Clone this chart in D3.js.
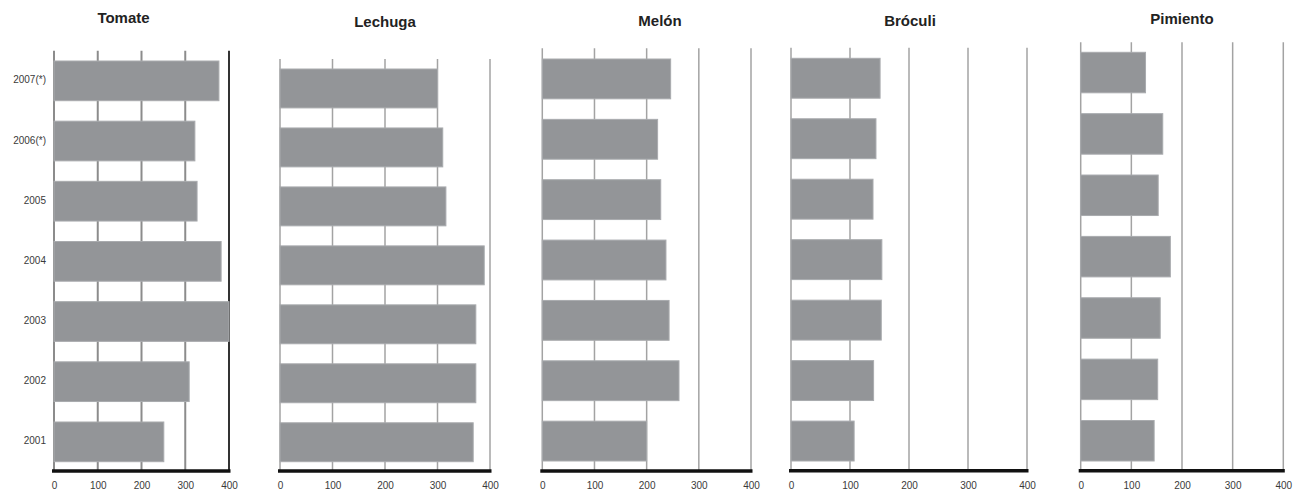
<!DOCTYPE html>
<html>
<head>
<meta charset="utf-8">
<script src="https://cdn.jsdelivr.net/npm/d3@7"></script>
<style>
  html, body { margin: 0; padding: 0; background: #fff; }
  svg { display: block; font-family: "Liberation Sans", Arial, sans-serif; }
</style>
</head>
<body>
<svg id="chart" width="1302" height="495"></svg>
<script>
// ---- data ----
const years = ["2001", "2002", "2003", "2004", "2005", "2006(*)", "2007(*)"];
const crops = ["Tomate", "Lechuga", "Melón", "Bróculi", "Pimiento"];
const tomate   = [251, 309, 400, 382, 327, 322, 377];
const lechuga  = [368, 373, 373, 389, 316, 310, 300];
const melon    = [200, 262, 243, 237, 227, 221, 246];
const broculi  = [107, 140, 153, 154, 139, 144, 151];
const pimiento = [145, 152, 157, 177, 153, 162, 128];
const tickValues = [0, 100, 200, 300, 400];
const seriesValues = [tomate, lechuga, melon, broculi, pimiento];

// ---- layout (positions only) ----
const layout = [
  { x0: 54,    x1: 229,    gridTop: 50.7, barTop: 61,   barBottom: 461.7, axisY: 471,   titleX: 123.5, titleY: 19, grid: "#8c8c8c", gw: 2 },
  { x0: 280,   x1: 490,    gridTop: 59,   barTop: 69,   barBottom: 461.7, axisY: 471,   titleX: 385,   titleY: 23, grid: "#a3a3a3", gw: 1.5 },
  { x0: 542.3, x1: 751,    gridTop: 48.3, barTop: 59,   barBottom: 461,   axisY: 471,   titleX: 660,   titleY: 22, grid: "#a3a3a3", gw: 1.5 },
  { x0: 791,   x1: 1027,   gridTop: 47.7, barTop: 58.3, barBottom: 461,   axisY: 470.7, titleX: 910,   titleY: 22, grid: "#a3a3a3", gw: 1.5 },
  { x0: 1080.7,x1: 1283.3, gridTop: 42.3, barTop: 52.3, barBottom: 461,   axisY: 470.7, titleX: 1182,  titleY: 20, grid: "#a3a3a3", gw: 1.5 }
];

const svg = d3.select("#chart");
const yOrder = years.slice().reverse(); // 2007 at top

crops.forEach((name, i) => {
  const L = layout[i];
  const vals = seriesValues[i];
  const g = svg.append("g");

  const x = d3.scaleLinear().domain([0, 400]).range([L.x0, L.x1]);
  const y = d3.scaleBand().domain(yOrder).range([L.barTop, L.barBottom])
              .paddingInner(0.34).paddingOuter(0);

  // title
  g.append("text")
    .attr("x", L.titleX).attr("y", L.titleY)
    .attr("text-anchor", "middle").attr("dominant-baseline", "middle")
    .attr("font-weight", "bold").attr("font-size", 15).attr("fill", "#222")
    .text(name);

  // gridlines
  g.selectAll("line.grid").data(tickValues).enter().append("line")
    .attr("class", "grid")
    .attr("x1", d => x(d)).attr("x2", d => x(d))
    .attr("y1", L.gridTop).attr("y2", L.axisY)
    .attr("stroke", d => (i === 0 && d === 400) ? "#333" : L.grid)
    .attr("stroke-width", L.gw);

  // bars
  g.selectAll("rect.bar").data(years.map((yr, k) => ({ yr, v: vals[k] }))).enter().append("rect")
    .attr("class", "bar")
    .attr("x", x(0))
    .attr("y", d => y(d.yr))
    .attr("width", d => x(d.v) - x(0))
    .attr("height", y.bandwidth())
    .attr("fill", "#939598")
    .attr("stroke", "#a9abae").attr("stroke-width", 1);

  // axis labels
  const axis = d3.axisBottom(x).tickValues(tickValues).tickSize(0).tickPadding(11);
  const ag = g.append("g").attr("transform", `translate(0,${L.axisY})`).call(axis);
  ag.select(".domain").remove();
  ag.selectAll("text").attr("font-size", 10).attr("fill", "#3a3a3a")
    .attr("font-family", "\"Liberation Sans\", Arial, sans-serif");

  // thick baseline
  g.append("line")
    .attr("x1", x(0) - 2).attr("x2", x(400) + 1.5)
    .attr("y1", L.axisY).attr("y2", L.axisY)
    .attr("stroke", "#111").attr("stroke-width", 3.5);

  // year labels only on the first panel
  if (i === 0) {
    g.selectAll("text.year").data(years).enter().append("text")
      .attr("class", "year")
      .attr("x", 46)
      .attr("y", d => y(d) + y.bandwidth() / 2)
      .attr("text-anchor", "end").attr("dominant-baseline", "middle")
      .attr("font-size", 10).attr("fill", "#3a3a3a")
      .text(d => d);
  }
});
</script>
</body>
</html>
